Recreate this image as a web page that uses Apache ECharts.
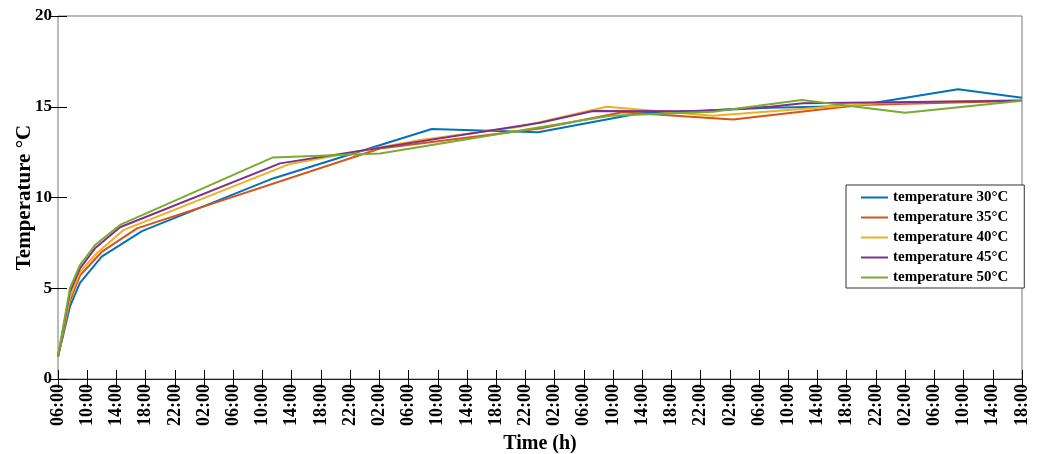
<!DOCTYPE html>
<html>
<head>
<meta charset="utf-8">
<title>temperature</title>
<script src="https://cdn.jsdelivr.net/npm/echarts@6/dist/echarts.min.js"></script>
<style>
  html, body { margin: 0; padding: 0; background: #fff; }
  #chart { width: 1041px; height: 454px; }
</style>
</head>
<body>
<div id="chart"></div>
<script>
// time in hours since 06:00 on the first day
var t30 = [0, 1.64, 3.01, 5.98, 11.5, 29.44, 51.17, 65.73, 79.69, 97.49, 109.13, 123.24, 132]
var v30 = [1.23, 4.0, 5.3, 6.74, 8.15, 11.05, 13.77, 13.6, 14.64, 14.95, 15.04, 15.96, 15.5]

var t35 = [0, 1.64, 3.01, 5.98, 10.82, 44.09, 66.0, 77.23, 92.43, 109.82, 132]
var v35 = [1.23, 4.3, 5.7, 7.0, 8.3, 12.7, 13.8, 14.7, 14.3, 15.1, 15.33]

var t40 = [0, 1.64, 3.01, 5.3, 8.94, 31.77, 49.57, 63.26, 75.13, 89.69, 112.56, 132]
var v40 = [1.23, 4.5, 5.9, 6.93, 8.2, 11.85, 13.17, 13.9, 15.0, 14.5, 15.2, 15.37]

var t45 = [0, 1.64, 3.01, 5.07, 8.49, 30.4, 66.0, 73.26, 87.91, 97.49, 102.01, 132]
var v45 = [1.23, 4.8, 6.1, 7.2, 8.36, 11.88, 14.12, 14.77, 14.75, 15.0, 15.19, 15.33]

var t50 = [0, 1.64, 3.01, 5.07, 8.49, 29.44, 44.09, 75.59, 89.69, 101.83, 115.98, 132]
var v50 = [1.23, 5.0, 6.28, 7.38, 8.49, 12.21, 12.43, 14.5, 14.73, 15.37, 14.67, 15.33]

var names = ['temperature 30°C', 'temperature 35°C', 'temperature 40°C', 'temperature 45°C', 'temperature 50°C']
var colors = ['#0072BD', '#D95319', '#EDB120', '#7E2F8E', '#77AC30']
var startHour = 6

var font = '"Liberation Serif", "Times New Roman", serif'

function pairs(ts, vs) {
  return ts.map(function (t, i) { return [t, vs[i]] })
}

function clock(h) {
  var hh = (startHour + h) % 24
  return (hh < 10 ? '0' : '') + hh + ':00'
}

var chart = echarts.init(document.getElementById('chart'))

var allT = [t30, t35, t40, t45, t50]
var allV = [v30, v35, v40, v45, v50]

var series = names.map(function (name, i) {
  return {
    name: name,
    type: 'line',
    data: pairs(allT[i], allV[i]),
    symbol: 'none',
    lineStyle: { width: 2, color: colors[i] },
    itemStyle: { color: colors[i] },
    z: 2 + i
  }
})

var tickStyle = { show: true, inside: true, length: 9, lineStyle: { color: '#000', width: 1 } }

var option = {
  animation: false,
  backgroundColor: '#fff',
  grid: {
    left: 58, right: 19, top: 16, bottom: 75,
    outerBoundsMode: 'none',
    containLabel: false,
    show: true, borderColor: '#777', borderWidth: 1
  },
  legend: {
    orient: 'vertical',
    left: 846,
    top: 185,
    padding: [5, 16, 3, 14],
    itemWidth: 27,
    itemHeight: 14,
    itemGap: 5,
    itemStyle: { opacity: 0 },
    lineStyle: { width: 2 },
    borderColor: '#333',
    borderWidth: 1,
    backgroundColor: '#fff',
    data: names,
    textStyle: { fontFamily: font, fontWeight: 'bold', fontSize: 15, color: '#000' }
  },
  xAxis: [
    {
      type: 'value',
      min: 0, max: 132, interval: 4,
      name: 'Time (h)',
      nameLocation: 'middle',
      nameGap: 53,
      nameTextStyle: { fontFamily: font, fontWeight: 'bold', fontSize: 20, color: '#000' },
      axisLine: { show: true, lineStyle: { color: '#222', width: 1 } },
      axisTick: tickStyle,
      splitLine: { show: false },
      axisLabel: {
        rotate: 90,
        margin: 5,
        formatter: clock,
        fontFamily: font, fontWeight: 'bold', fontSize: 18, color: '#000'
      }
    },
    {
      type: 'value', position: 'top',
      min: 0, max: 132, interval: 4,
      axisLine: { show: true, lineStyle: { color: '#222', width: 1 } },
      axisTick: tickStyle,
      axisLabel: { show: false },
      splitLine: { show: false }
    }
  ],
  yAxis: [
    {
      type: 'value',
      min: 0, max: 20, interval: 5,
      name: 'Temperature °C',
      nameLocation: 'middle',
      nameGap: 23,
      nameMoveOverlap: false,
      nameTextStyle: { fontFamily: font, fontWeight: 'bold', fontSize: 21, color: '#000' },
      axisLine: { show: false },
      axisTick: tickStyle,
      splitLine: { show: false },
      axisLabel: { margin: 6, fontFamily: font, fontWeight: 'bold', fontSize: 17, color: '#000' }
    },
    {
      type: 'value', position: 'right',
      min: 0, max: 20, interval: 5,
      axisLine: { show: false },
      axisTick: tickStyle,
      axisLabel: { show: false },
      splitLine: { show: false }
    }
  ],
  series: series
}

chart.setOption(option)
</script>
</body>
</html>
